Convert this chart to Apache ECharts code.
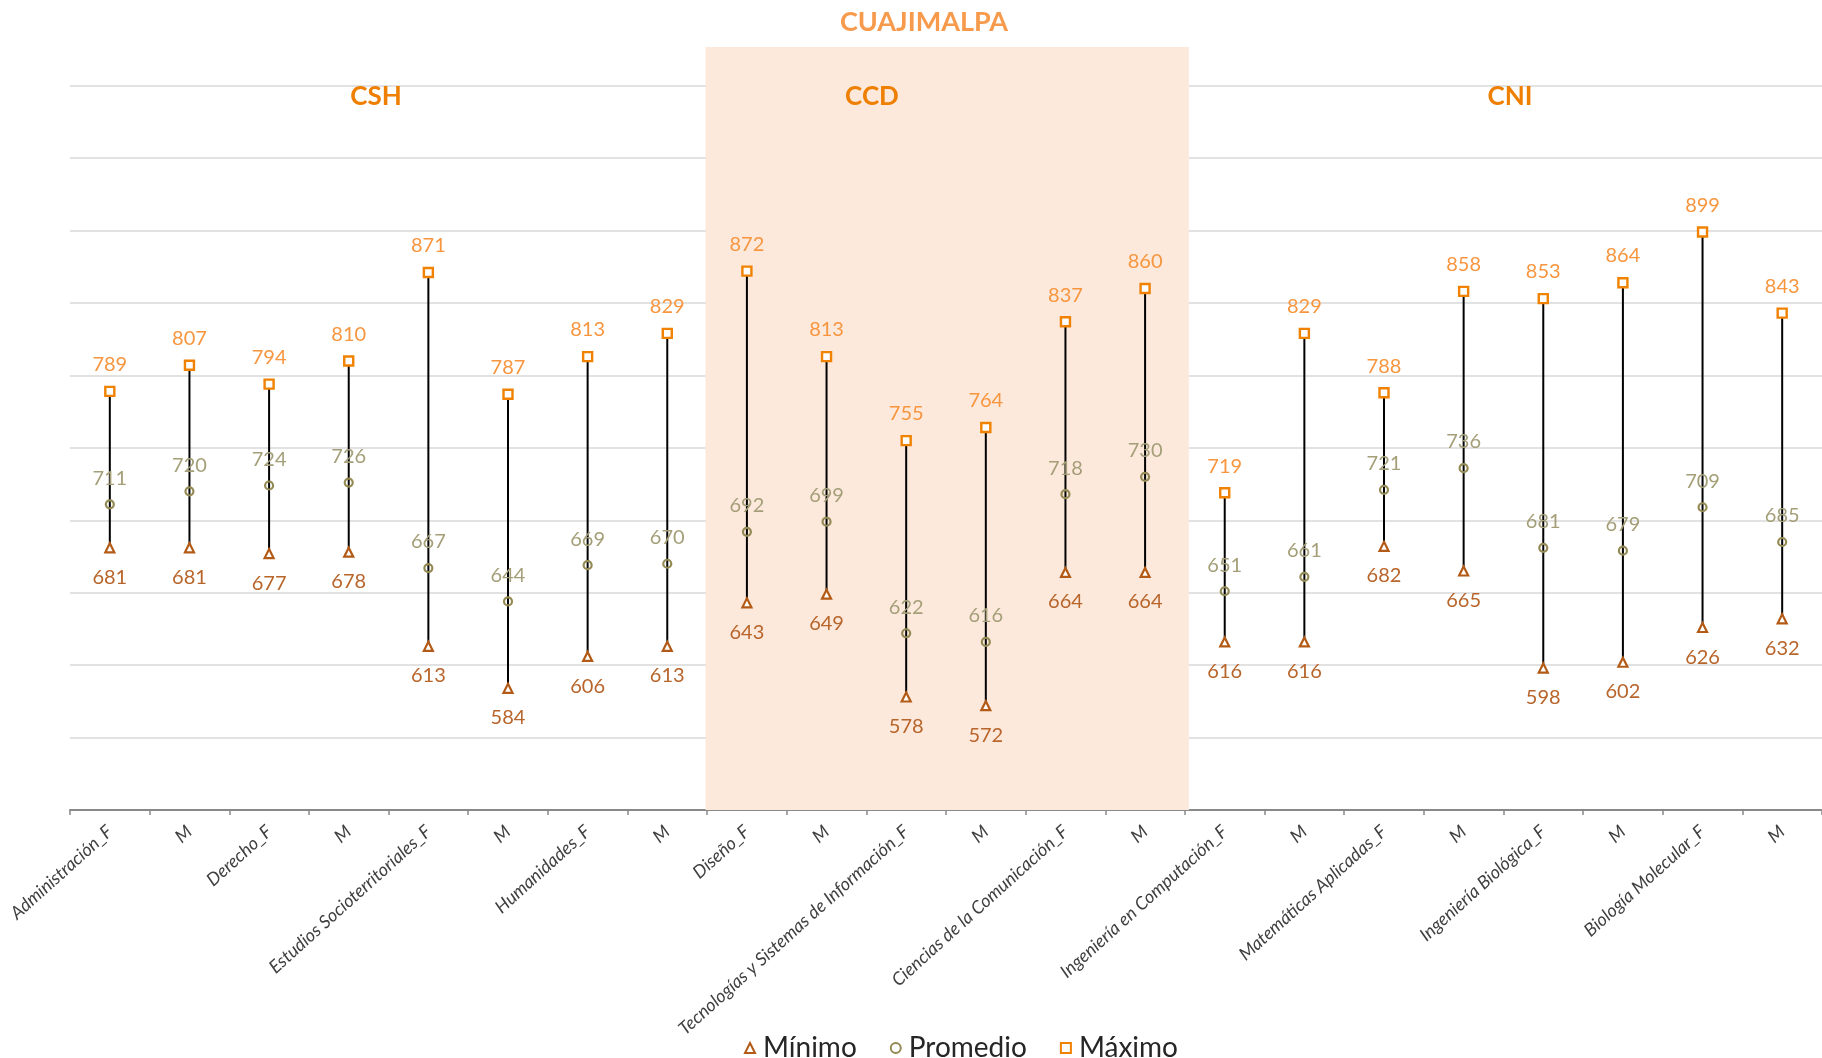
<!DOCTYPE html>
<html>
<head>
<meta charset="utf-8">
<script src="https://cdn.jsdelivr.net/npm/echarts@6/dist/echarts.min.js"></script>
<style>
html,body{margin:0;padding:0;background:#fff;}
#chart{width:1822px;height:1058px;}
</style>
</head>
<body>
<div id="chart"></div>
<script>
const categories = [
  'Administración_F','M','Derecho_F','M','Estudios Socioterritoriales_F','M','Humanidades_F','M',
  'Diseño_F','M','Tecnologías y Sistemas de Información_F','M','Ciencias de la Comunicación_F','M',
  'Ingeniería en Computación_F','M','Matemáticas Aplicadas_F','M','Ingeniería Biológica_F','M','Biología Molecular_F','M'
];
const minVals = [681,681,677,678,613,584,606,613,643,649,578,572,664,664,616,616,682,665,598,602,626,632];
const avgVals = [711,720,724,726,667,644,669,670,692,699,622,616,718,730,651,661,721,736,681,679,709,685];
const maxVals = [789,807,794,810,871,787,813,829,872,813,755,764,837,860,719,829,788,858,853,864,899,843];
const seriesNames = ['Mínimo','Promedio','Máximo'];
const ccdRange = [7.98, 14.05]; // category span of the shaded CCD block
const sectionTitles = ['CSH','CCD','CNI'];
const mainTitle = 'CUAJIMALPA';

const FONT = 'Lato';
const chart = echarts.init(document.getElementById('chart'));

const option = {
  animation: false,
  backgroundColor: '#ffffff',
  textStyle: { fontFamily: FONT },
  graphic: [
    { type:'text', x:924, y:22, z:10, style:{ text: mainTitle, font:'bold 27px Lato', fill:'#F79A4C', align:'center', verticalAlign:'middle' } },
    { type:'text', x:376, y:97, z:10, style:{ text: sectionTitles[0], font:'bold 26px Lato', fill:'#EE7F00', align:'center', verticalAlign:'middle' } },
    { type:'text', x:872, y:97, z:10, style:{ text: sectionTitles[1], font:'bold 26px Lato', fill:'#EE7F00', align:'center', verticalAlign:'middle' } },
    { type:'text', x:1510, y:97, z:10, style:{ text: sectionTitles[2], font:'bold 26px Lato', fill:'#EE7F00', align:'center', verticalAlign:'middle' } }
  ],
  legend: {
    left: 739,
    top: 1029,
    itemGap: 33,
    itemWidth: 10,
    itemHeight: 10,
    textStyle: { fontFamily: FONT, fontSize: 28, color: '#262626', padding: [0, 0, 0, 3] },
    data: [
      { name: seriesNames[0], icon: 'triangle' },
      { name: seriesNames[1], icon: 'circle' },
      { name: seriesNames[2], icon: 'rect' }
    ]
  },
  grid: [
    { left: 70, width: 1760, top: 85.7, bottom: 248, containLabel: false },
    { left: 70, width: 1760, top: 47, bottom: 248, containLabel: false }
  ],
  xAxis: [
    {
      type: 'category', gridIndex: 0, data: categories, boundaryGap: true,
      axisLine: { show: true, lineStyle: { color: '#898989', width: 2 } },
      axisTick: { show: true, length: 5, lineStyle: { color: '#898989', width: 1.5 } },
      axisLabel: { interval: 0, rotate: 42, margin: 19, fontFamily: FONT, fontStyle: 'italic', fontSize: 18, color: '#404040' },
      splitLine: { show: false }
    },
    {
      type: 'value', gridIndex: 1, min: 0, max: categories.length, show: false
    }
  ],
  yAxis: [
    {
      type: 'value', gridIndex: 0, min: 500, max: 1000, interval: 50,
      axisLine: { show: false }, axisTick: { show: false }, axisLabel: { show: false },
      splitLine: { show: true, lineStyle: { color: '#D9D9D9', width: 1.6 } }
    },
    { type: 'value', gridIndex: 1, min: 0, max: 1, show: false }
  ],
  series: [
    {
      type: 'scatter', xAxisIndex: 1, yAxisIndex: 1, data: [], z: -1, silent: true,
      markArea: {
        silent: true,
        itemStyle: { color: '#FCE9DC' },
        data: [[ { xAxis: ccdRange[0] }, { xAxis: ccdRange[1] } ]]
      }
    },
    {
      type: 'custom', xAxisIndex: 0, yAxisIndex: 0, z: 2, silent: true,
      data: categories.map((c, i) => [i, minVals[i], maxVals[i]]),
      encode: { x: 0, y: [1, 2] },
      renderItem: function (params, api) {
        const p1 = api.coord([api.value(0), api.value(1)]);
        const p2 = api.coord([api.value(0), api.value(2)]);
        return { type: 'line', shape: { x1: p1[0], y1: p1[1], x2: p2[0], y2: p2[1] }, style: { stroke: '#000', lineWidth: 2 } };
      }
    },
    {
      name: seriesNames[0], type: 'scatter', z: 3, data: minVals,
      symbol: 'triangle', symbolSize: 9,
      itemStyle: { color: '#ffffff', borderColor: '#B35B16', borderWidth: 2.2, opacity: 1 },
      label: { show: true, position: 'bottom', distance: 14, fontFamily: FONT, fontSize: 20, color: '#B8652B' }
    },
    {
      name: seriesNames[1], type: 'scatter', z: 3, data: avgVals,
      symbol: 'circle', symbolSize: 8,
      itemStyle: { color: 'rgba(255,255,255,0)', borderColor: '#948A54', borderWidth: 2.2, opacity: 1 },
      label: { show: true, position: 'top', distance: 11, fontFamily: FONT, fontSize: 20, color: '#A49F78' }
    },
    {
      name: seriesNames[2], type: 'scatter', z: 3, data: maxVals,
      symbol: 'rect', symbolSize: 9,
      itemStyle: { color: '#ffffff', borderColor: '#F08200', borderWidth: 2.4, opacity: 1 },
      label: { show: true, position: 'top', distance: 11, fontFamily: FONT, fontSize: 20, color: '#F7963F' }
    }
  ]
};
chart.setOption(option);
</script>
</body>
</html>
